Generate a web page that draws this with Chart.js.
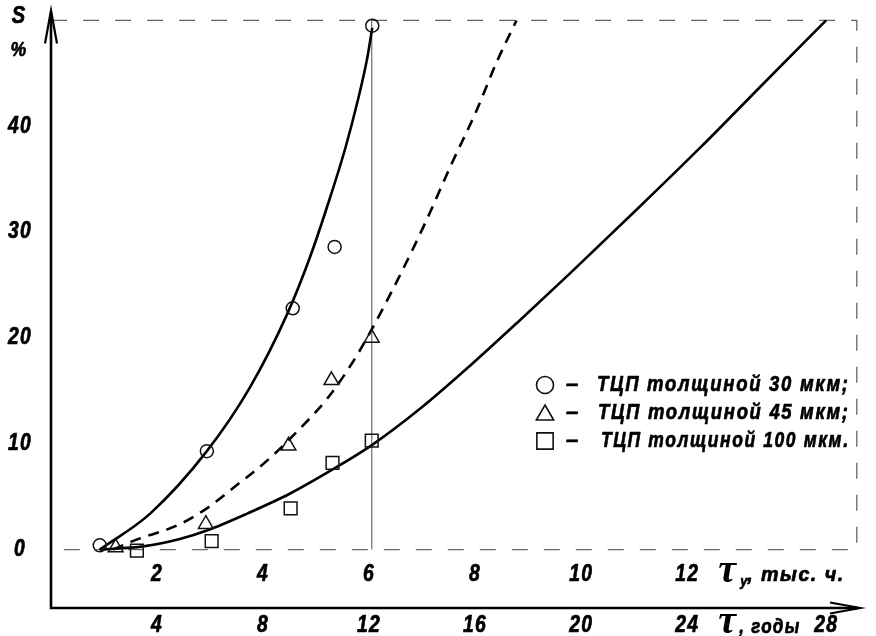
<!DOCTYPE html>
<html>
<head>
<meta charset="utf-8">
<script src="https://cdn.jsdelivr.net/npm/chart.js@4.4.1/dist/chart.umd.min.js"></script>
<style>
  html, body { margin: 0; padding: 0; background: #fff; }
  canvas { display: block; }
</style>
</head>
<body>
<canvas id="wearChart" width="876" height="636"></canvas>
<script>
// measured points: x = τу, thousand hours; y = S, %
const circleX = [0.92, 2.94, 4.56, 5.35, 6.06];
const circleY = [0.4, 9.3, 22.8, 28.6, 49.5];
const triangleX = [1.22, 2.92, 4.48, 5.29, 6.05];
const triangleY = [0.2, 2.4, 9.8, 16.0, 20.0];
const squareX = [1.62, 3.03, 4.52, 5.31, 6.05];
const squareY = [-0.1, 0.8, 3.9, 8.2, 10.3];

// approximating curves
const curve30X = [0.92, 1.87, 2.94, 3.75, 4.45, 4.89, 5.26, 5.55, 5.79, 5.96, 6.06];
const curve30Y = [0, 3.4, 9.3, 15.3, 22.2, 27.7, 33.2, 37.9, 42.5, 46.3, 49.3];
const curve45X = [1.17, 1.54, 2.43, 2.94, 3.43, 4.12, 4.69, 5.2, 5.69, 6.06, 6.63, 7.08, 7.57, 8.02, 8.4, 8.78];
const curve45Y = [0, 0.8, 2.4, 3.9, 5.8, 8.6, 11.4, 14.2, 17.7, 20.9, 26.4, 31.1, 36.6, 41.4, 46.0, 50.0];
const curve100X = [0.92, 1.74, 2.43, 2.94, 3.70, 4.51, 5.32, 6.06, 6.96, 7.91, 8.85, 9.79, 10.98, 12.25, 13.51, 14.62];
const curve100Y = [0, 0.3, 1.0, 1.8, 3.4, 5.3, 7.6, 9.9, 13.3, 17.4, 21.7, 26.1, 31.8, 38.0, 44.4, 50.0];

// dashed frame and the line at the last measurement
const frameX = [0, 15.2, 15.2, 0];
const frameY = [50, 50, 0, 0];
const cutX = [6.05, 6.05];
const cutY = [0, 50];

const yTicks = [0, 10, 20, 30, 40];
const hourTicks = [2, 4, 6, 8, 10, 12];
const yearTicks = [4, 8, 12, 16, 20, 24];
const legendLabels = ['ТЦП толщиной 30 мкм;', 'ТЦП толщиной 45 мкм;', 'ТЦП толщиной 100 мкм.'];

const FAMILY = '"Liberation Sans", Arial, sans-serif';
const BOLD = (size) => 'italic bold ' + size + 'px ' + FAMILY;

const toPoints = (xs, ys) => xs.map((v, i) => ({ x: v, y: ys[i] }));

const markerStyle = {
  showLine: false,
  backgroundColor: 'rgba(0,0,0,0)',
  borderColor: '#111',
  pointBorderWidth: 1.5,
  clip: false
};
const curveStyle = {
  showLine: true,
  pointRadius: 0,
  borderColor: '#000',
  borderWidth: 2.6,
  cubicInterpolationMode: 'monotone',
  clip: false
};

// condensed heavy look: squeeze the glyphs, thicken them a little
function label(ctx, str, px, py, opts) {
  const o = Object.assign({ size: 23, align: 'center', squeeze: 0.84, spacing: 1.5, font: null, width: 0, heavy: 0.7 }, opts);
  ctx.save();
  ctx.font = o.font || BOLD(o.size);
  ctx.textBaseline = 'middle';
  ctx.textAlign = o.align;
  let sx = o.squeeze;
  if (o.width) {
    ctx.letterSpacing = '0px';
    const w0 = ctx.measureText(str).width;
    sx = o.width / (w0 + o.spacing * (str.length - 1));
  }
  ctx.letterSpacing = o.spacing + 'px';
  ctx.translate(px, py);
  ctx.scale(sx, 1);
  ctx.fillStyle = '#000';
  ctx.fillText(str, 0, 0);
  if (o.heavy) {
    ctx.strokeStyle = '#000';
    ctx.lineWidth = o.heavy;
    ctx.lineJoin = 'round';
    ctx.strokeText(str, 0, 0);
  }
  ctx.restore();
}

function arrow(ctx, tipX, tipY, dx, dy, len, half) {
  const bx = tipX - dx * len, by = tipY - dy * len;
  ctx.beginPath();
  ctx.moveTo(bx - dy * half, by + dx * half);
  ctx.lineTo(tipX, tipY);
  ctx.lineTo(bx + dy * half, by - dx * half);
  ctx.stroke();
}

const decor = {
  id: 'decor',
  afterDraw(chart) {
    const ctx = chart.ctx;
    const xs = chart.scales.x, ys = chart.scales.y, yr = chart.scales.years;
    const area = chart.chartArea;
    const ax = xs.getPixelForValue(0);
    ctx.save();
    ctx.strokeStyle = '#000';
    ctx.lineWidth = 2.6;

    // axes with open arrow heads
    ctx.beginPath();
    ctx.moveTo(ax, area.bottom);
    ctx.lineTo(ax, area.top + 2);
    ctx.moveTo(ax - 1.3, area.bottom);
    ctx.lineTo(area.right - 2, area.bottom);
    ctx.stroke();
    ctx.lineWidth = 2.2;
    arrow(ctx, ax, area.top, 0, -1, 33, 6);
    arrow(ctx, area.right, area.bottom, 1, 0, 30, 5.5);

    yTicks.forEach(v => label(ctx, String(v), 20, ys.getPixelForValue(v)));
    label(ctx, 'S', 19, 16, { size: 24 });
    label(ctx, '%', 19, 50, { size: 21 });

    // τу ticks inside the plot, years under the axis
    const rowH = ys.getPixelForValue(0) + 25;
    const rowY = area.bottom + 18;
    hourTicks.forEach(v => label(ctx, String(v), xs.getPixelForValue(v), rowH));
    yearTicks.forEach(v => label(ctx, String(v), yr.getPixelForValue(v), rowY));

    const x12 = xs.getPixelForValue(hourTicks[hourTicks.length - 1]);
    const tauFont = 'italic bold 40px "Liberation Serif", serif';
    label(ctx, 'τ', x12 + 40, rowH - 3, { font: tauFont, squeeze: 1, spacing: 0, heavy: 0 });
    label(ctx, 'τ', x12 + 40, rowY - 3, { font: tauFont, squeeze: 1, spacing: 0, heavy: 0 });
    label(ctx, 'у', x12 + 53, rowH + 7, { size: 15, align: 'left', spacing: 0 });
    label(ctx, ', тыс. ч.', x12 + 60, rowH + 1, { size: 20, align: 'left', width: 96 });
    label(ctx, ', годы', x12 + 52, rowY + 1, { size: 20, align: 'left', width: 60 });
    label(ctx, '28', x12 + 127, rowY, { align: 'left' });

    // legend
    const styles = ['circle', 'triangle', 'rect'];
    const radii = [8.5, 10, 11.5];
    const rows = [385, 413, 441];
    const starts = [597, 598, 601];
    styles.forEach((st, i) => {
      ctx.lineWidth = 1.6;
      ctx.strokeStyle = '#111';
      ctx.fillStyle = 'rgba(0,0,0,0)';
      Chart.helpers.drawPoint(ctx, { pointStyle: st, radius: radii[i], borderWidth: 1.6 }, 545, rows[i] + (i === 1 ? 2 : 0));
      label(ctx, '–', 572, rows[i], { size: 22, spacing: 0, squeeze: 1 });
      label(ctx, legendLabels[i], starts[i], rows[i], { size: 22, align: 'left', spacing: 2, width: 848 - starts[i] });
    });
    ctx.restore();
  }
};

new Chart(document.getElementById('wearChart'), {
  type: 'scatter',
  data: {
    datasets: [
      { ...markerStyle, label: 'circles', data: toPoints(circleX, circleY), pointStyle: 'circle', pointRadius: 6.5 },
      { ...markerStyle, label: 'triangles', data: toPoints(triangleX, triangleY), pointStyle: 'triangle', pointRadius: 8.5 },
      { ...markerStyle, label: 'squares', data: toPoints(squareX, squareY), pointStyle: 'rect', pointRadius: 9 },
      { ...curveStyle, label: legendLabels[0], data: toPoints(curve30X, curve30Y) },
      { ...curveStyle, label: legendLabels[1], data: toPoints(curve45X, curve45Y), borderDash: [11, 8] },
      { ...curveStyle, label: legendLabels[2], data: toPoints(curve100X, curve100Y) },
      { label: 'cut', data: toPoints(cutX, cutY), showLine: true, pointRadius: 0, borderColor: '#777', borderWidth: 1.3 },
      { label: 'frame', data: toPoints(frameX, frameY), showLine: true, pointRadius: 0, borderColor: '#666', borderWidth: 1.3, borderDash: [16, 16] }
    ]
  },
  options: {
    responsive: false,
    animation: false,
    devicePixelRatio: 1,
    layout: { padding: { left: 51, right: 16, top: 5, bottom: 28 } },
    plugins: { legend: { display: false }, tooltip: { enabled: false } },
    scales: {
      x: { type: 'linear', min: 0, max: 15.26, display: false },
      years: { type: 'linear', axis: 'x', position: 'bottom', min: 0, max: 30.52, display: false },
      y: { type: 'linear', min: -5.52, max: 50.94, display: false }
    }
  },
  plugins: [decor]
});
</script>
</body>
</html>
